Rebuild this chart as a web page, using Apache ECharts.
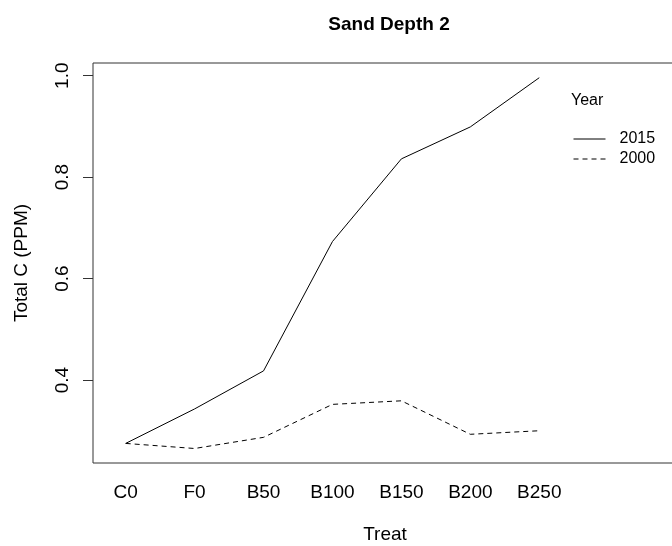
<!DOCTYPE html>
<html>
<head>
<meta charset="utf-8">
<script src="https://cdn.jsdelivr.net/npm/echarts@6/dist/echarts.min.js"></script>
<style>html,body{margin:0;padding:0;background:#fff}#c{width:672px;height:546px}</style>
</head>
<body>
<div id="c"></div>
<script>
var categories = ['C0', 'F0', 'B50', 'B100', 'B150', 'B200', 'B250'];
var years = ['2015', '2000'];
var values2015 = [0.275, 0.343, 0.418, 0.673, 0.836, 0.899, 0.996];
var values2000 = [0.275, 0.265, 0.287, 0.352, 0.359, 0.293, 0.300];
var yTicks = [0.4, 0.6, 0.8, 1.0];

var FONT = 'Liberation Sans, Arial, sans-serif';
function pts(vals) { return vals.map(function (v, i) { return [i, v]; }); }

var chart = echarts.init(document.getElementById('c'), null, { renderer: 'canvas' });
chart.setOption({
  backgroundColor: '#ffffff',
  animation: false,
  title: [
    { text: 'Sand Depth 2', left: 384, top: 10, textAlign: 'center',
      textStyle: { fontFamily: FONT, fontSize: 19, fontWeight: 'bold', color: '#000' } },
    { text: 'Year', left: 566, top: 88,
      textStyle: { fontFamily: FONT, fontSize: 16, fontWeight: 'normal', color: '#000' } }
  ],
  legend: {
    data: years,
    orient: 'vertical',
    left: 568, top: 126,
    itemWidth: 32, itemHeight: 10, itemGap: 4,
    itemStyle: { color: 'transparent', borderWidth: 0, opacity: 0 },
    lineStyle: { width: 1 },
    textStyle: { fontFamily: FONT, fontSize: 16, color: '#000', padding: [0, 0, 0, 9] },
    selectedMode: false
  },
  grid: { left: 93, top: 63, bottom: 83, right: -300, show: true, borderColor: '#333', borderWidth: 1,
          containLabel: false, outerBoundsMode: 'none' },
  xAxis: {
    type: 'value',
    min: -0.474, max: 12.278,
    axisLine: { show: false, onZero: false },
    axisTick: { show: false },
    splitLine: { show: false },
    axisLabel: {
      customValues: [0, 1, 2, 3, 4, 5, 6],
      formatter: function (v) { return categories[Math.round(v)] || ''; },
      fontFamily: FONT, fontSize: 19, color: '#000', margin: 20
    }
  },
  yAxis: {
    type: 'value',
    min: 0.2364, max: 1.025,
    name: 'Total C (PPM)', nameLocation: 'middle', nameGap: 62, nameRotate: 90,
    nameTextStyle: { fontFamily: FONT, fontSize: 19, color: '#000' },
    axisLine: { show: false, onZero: false },
    axisTick: { show: true, customValues: yTicks, length: 10, lineStyle: { color: '#333' } },
    splitLine: { show: false },
    axisLabel: {
      customValues: yTicks, rotate: 90,
      formatter: function (v) { return v.toFixed(1); },
      fontFamily: FONT, fontSize: 19, color: '#000', margin: 21
    }
  },
  graphic: [
    { type: 'text', x: 385, y: 525, style: { text: 'Treat', textAlign: 'center', fontFamily: FONT, fontSize: 19, fill: '#000' } }
  ],
  series: [
    { name: '2015', type: 'line', data: pts(values2015), symbol: 'none', silent: true,
      lineStyle: { color: '#000', width: 1, type: 'solid' }, itemStyle: { color: '#000' } },
    { name: '2000', type: 'line', data: pts(values2000), symbol: 'none', silent: true,
      lineStyle: { color: '#000', width: 1, type: [5, 4] }, itemStyle: { color: '#000' } }
  ]
});
</script>
</body>
</html>
